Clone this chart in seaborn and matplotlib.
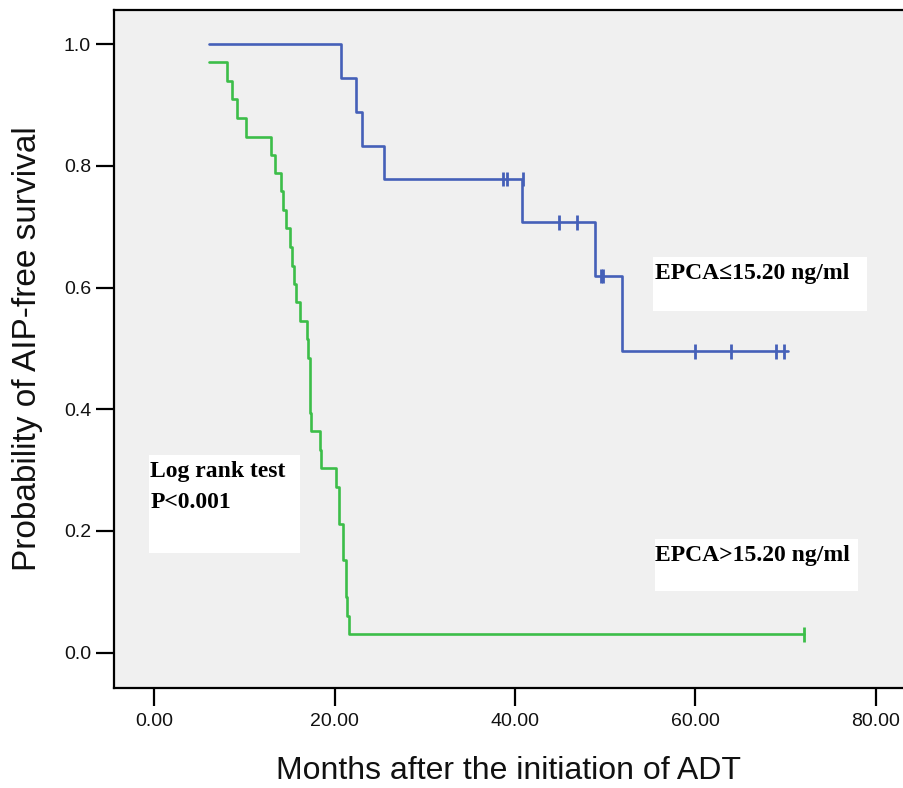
import pandas as pd
import matplotlib
matplotlib.use("Agg")
import matplotlib.pyplot as plt
from matplotlib.patches import Rectangle
import seaborn as sns

# step curve for EPCA <= 15.20 ng/ml (time the level starts, survival level)
low_times = [6.0, 20.7, 22.3, 23.0, 25.5, 40.8, 48.9, 51.9, 70.3]
low_surv = [1.000, 0.944, 0.889, 0.833, 0.778, 0.707, 0.619, 0.495, 0.495]
low_cens_times = [38.7, 39.1, 40.9, 44.9, 46.9, 49.5, 49.8, 60.0, 63.9, 68.9, 69.8]
low_cens_surv = [0.778, 0.778, 0.778, 0.707, 0.707, 0.619, 0.619, 0.495, 0.495, 0.495, 0.495]

# step curve for EPCA > 15.20 ng/ml
high_times = [6.0, 8.1, 8.6, 9.1, 10.1, 12.9, 13.4, 14.0, 14.3, 14.6, 15.0, 15.3,
              15.5, 15.7, 16.1, 16.9, 17.0, 17.2, 17.3, 17.4, 18.4, 18.5, 20.1,
              20.5, 20.9, 21.2, 21.4, 21.6, 72.0]
high_surv = [0.970, 0.939, 0.909, 0.879, 0.848, 0.818, 0.788, 0.758, 0.727, 0.697,
             0.667, 0.636, 0.606, 0.576, 0.545, 0.515, 0.485, 0.455, 0.394, 0.364,
             0.333, 0.303, 0.273, 0.212, 0.152, 0.091, 0.061, 0.030, 0.030]
high_cens_times = [72.0]
high_cens_surv = [0.030]

groups = ["EPCA≤15.20 ng/ml", "EPCA>15.20 ng/ml"]
colors = {"EPCA≤15.20 ng/ml": "#4560b8", "EPCA>15.20 ng/ml": "#3cbe49"}

x_ticks = [0, 20, 40, 60, 80]
y_ticks = [0.0, 0.2, 0.4, 0.6, 0.8, 1.0]

curves = pd.concat([
    pd.DataFrame({"time": low_times, "surv": low_surv, "group": groups[0]}),
    pd.DataFrame({"time": high_times, "surv": high_surv, "group": groups[1]}),
])
censors = pd.concat([
    pd.DataFrame({"time": low_cens_times, "surv": low_cens_surv, "group": groups[0]}),
    pd.DataFrame({"time": high_cens_times, "surv": high_cens_surv, "group": groups[1]}),
])

sns.set_theme(style="ticks")
plt.rcParams["font.family"] = ["Liberation Sans", "DejaVu Sans"]

fig = plt.figure(figsize=(9.04, 7.88), dpi=100)
ax = fig.add_axes([0.1261, 0.1269, 0.8739, 0.8604])
ax.set_facecolor("#f0f0f0")

sns.lineplot(data=curves, x="time", y="surv", hue="group", palette=colors,
             drawstyle="steps-post", linewidth=1.9, legend=False, ax=ax,
             estimator=None, sort=False)
sns.scatterplot(data=censors, x="time", y="surv", hue="group", palette=colors,
                marker="|", s=110, linewidth=2.0, legend=False, ax=ax)

ax.set_xlim(-4.49, 83.14)
ax.set_ylim(-0.058, 1.056)
ax.set_xticks(x_ticks)
ax.set_xticklabels([f"{v:.2f}" for v in x_ticks])
ax.set_yticks(y_ticks)
ax.set_yticklabels([f"{v:.1f}" for v in y_ticks])
ax.tick_params(axis="both", direction="out", length=13, width=1.6, color="black",
               labelsize=14, labelcolor="#111111")
ax.tick_params(axis="x", pad=5)
ax.tick_params(axis="y", pad=3.5)

for side in ["left", "bottom", "top"]:
    ax.spines[side].set_linewidth(1.6)
    ax.spines[side].set_color("black")
ax.spines["right"].set_visible(False)

ax.set_xlabel("Months after the initiation of ADT", fontsize=23, labelpad=19,
              color="#111111")
ax.set_ylabel("Probability of AIP-free survival", fontsize=24, labelpad=15,
              color="#111111")

# white annotation boxes (axes fraction)
serif = ["Liberation Serif", "DejaVu Serif"]
for x0, y0, w, h in [(0.682, 0.556, 0.271, 0.080),
                     (0.685, 0.143, 0.257, 0.077),
                     (0.044, 0.199, 0.191, 0.145)]:
    ax.add_patch(Rectangle((x0, y0), w, h, transform=ax.transAxes,
                           facecolor="white", edgecolor="none", zorder=1))

text_kw = dict(transform=ax.transAxes, fontsize=17, fontweight="bold",
               family=serif, ha="left", va="center", color="black", zorder=3)
ax.text(0.685, 0.612, groups[0], **text_kw)
ax.text(0.685, 0.196, groups[1], **text_kw)
ax.text(0.046, 0.319, "Log rank test", **text_kw)
ax.text(0.046, 0.274, "P<0.001", **text_kw)

fig.savefig("out.png", dpi=100)
